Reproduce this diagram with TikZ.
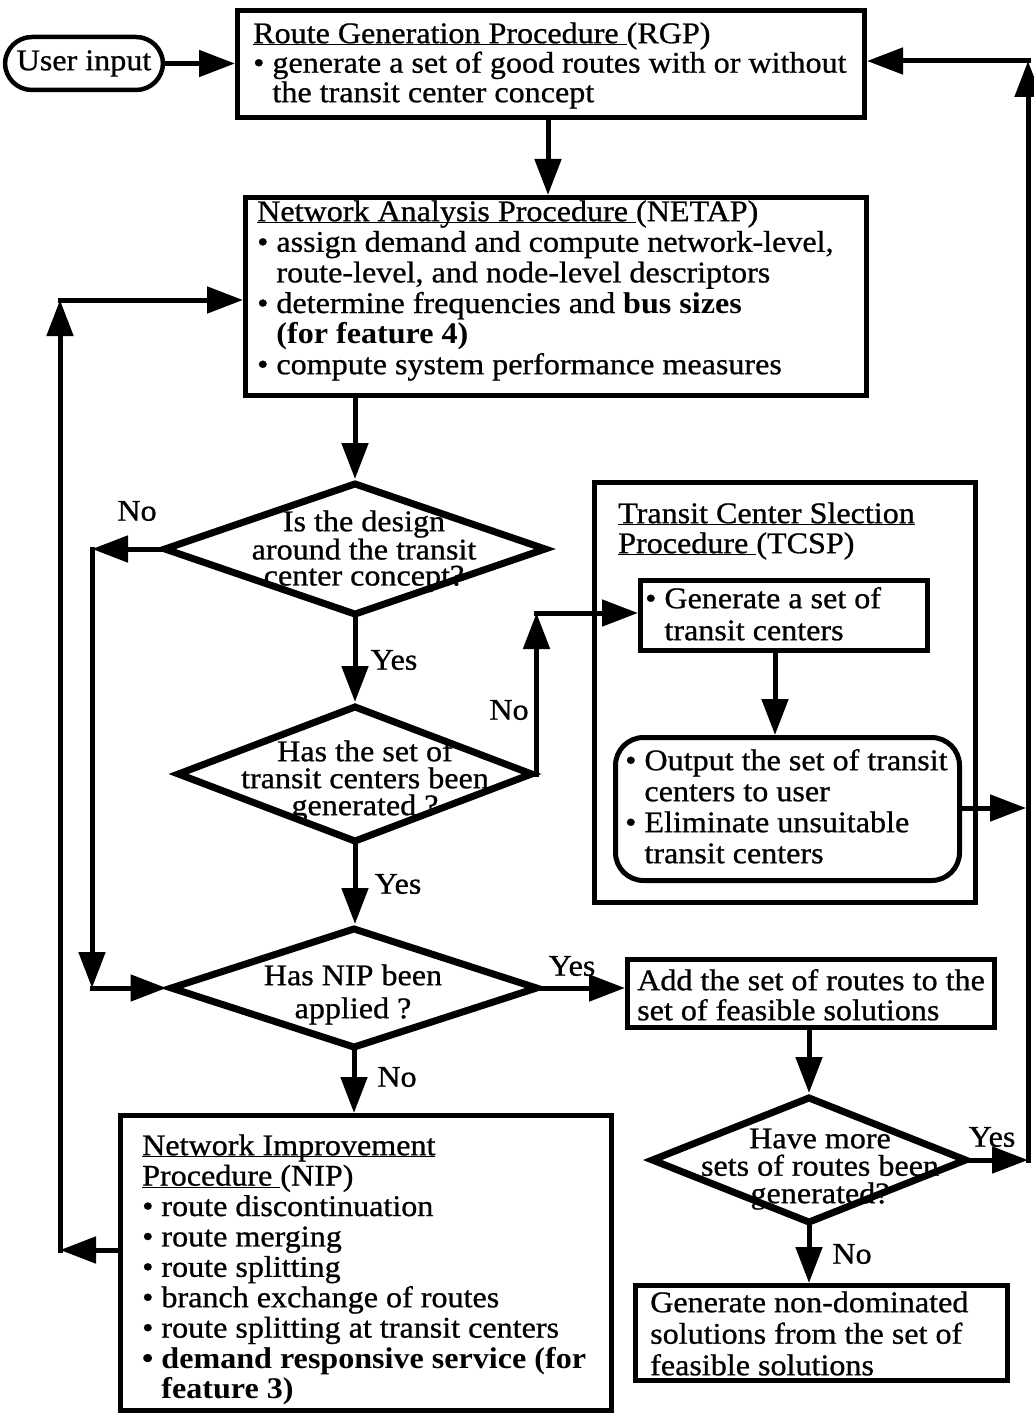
\documentclass[tikz,border=0pt]{standalone}
\usepackage{fontspec}
\setmainfont{Liberation Serif}[FakeStretch=1.07, UprightFeatures={FakeBold=0.8}]
\usetikzlibrary{arrows.meta,shapes.geometric}
\newcommand\ulx[1]{\underline{\smash{#1}}}
\newcommand\strt{\rule{0pt}{24pt}}
\newcommand\bul{\textbullet\ }
\newcommand\ind{\phantom{\textbullet\ }}
\begin{document}
\begin{tikzpicture}[x=1pt,y=-1pt,
  box/.style={draw, line width=5pt, inner sep=0pt},
  dia/.style={draw, diamond, line width=7pt, inner sep=0pt},
  conn/.style={line width=5pt, line cap=rect},
  arr/.style={conn, -{Triangle[length=36pt,width=26pt]}},
  txt/.style={anchor=north west, inner sep=0pt, align=left, font=\fontsize{30}{30.5}\selectfont},
  dtxt/.style={anchor=north, inner sep=0pt, align=center, font=\fontsize{30}{#1}\selectfont},
  lab/.style={inner sep=0pt, font=\fontsize{30}{30}\selectfont}]
\fill[white] (0,0) rectangle (1033,1415);
\useasboundingbox (0,0) rectangle (1033,1415);

% boxes
\node[box, rounded corners=27pt, line width=4.5pt, minimum width=158pt, minimum height=53pt,
      font=\fontsize{30}{30}\selectfont] (userin) at (84,63.5) {User input};
\node[box, minimum width=627pt, minimum height=107pt] (rgp) at (551,64) {};
\node[box, minimum width=621pt, minimum height=198pt] (netap) at (556,296.5) {};
\node[dia, minimum width=383pt, minimum height=133pt] (d1) at (355,549) {};
\node[dia, minimum width=356pt, minimum height=137pt] (d2) at (355,774) {};
\node[dia, minimum width=368pt, minimum height=121pt] (d3) at (354,988) {};
\node[box, minimum width=491pt, minimum height=295pt] (nip) at (366,1263) {};
\node[box, minimum width=381pt, minimum height=420pt] (tcsp) at (785,692.5) {};
\node[box, minimum width=287pt, minimum height=70pt] (gen) at (784,615.5) {};
\node[box, rounded corners=28pt, minimum width=344pt, minimum height=143pt] (out) at (787.5,809) {};
\node[box, minimum width=367pt, minimum height=68pt] (add) at (811,993.5) {};
\node[dia, minimum width=316pt, minimum height=127pt] (d4) at (809,1160) {};
\node[box, minimum width=372pt, minimum height=95pt] (gnd) at (821.5,1333) {};

% texts
\node[txt, font=\fontsize{30}{29.5}\selectfont] (rgpT) at (253,19)
  {\strt\ulx{Route Generation Procedure }(RGP)\\
   \bul generate a set of good routes with or without\\
   \ind the transit center concept};
\node[txt, font=\fontsize{30}{30.6}\selectfont] (netapT) at (257,197)
  {\strt\ulx{Network Analysis Procedure }(NETAP)\\
   \bul assign demand and compute network-level,\\
   \ind route-level, and node-level descriptors\\
   \bul determine frequencies and \textbf{bus sizes}\\
   \ind\textbf{(for feature 4)}\\
   \bul compute system performance measures};
\node[dtxt=26] (d1T) at (364,507)
  {\strt Is the design\\around the transit\\center concept?};
\node[dtxt=27] (d2T) at (365,737)
  {\strt Has the set of\\transit centers been\\generated ?};
\node[dtxt=33] (d3T) at (353,961)
  {\strt Has NIP been\\applied ?};
\node[dtxt=27.5] (d4T) at (820,1124)
  {\strt Have more\\sets of routes been\\generated?};
\node[txt, font=\fontsize{30}{30.4}\selectfont] (nipT) at (142,1131)
  {\strt\ulx{Network Improvement}\\
   \ulx{Procedure }(NIP)\\
   \bul route discontinuation\\
   \bul route merging\\
   \bul route splitting\\
   \bul branch exchange of routes\\
   \bul route splitting at transit centers\\
   \textbf{\bul demand responsive service (for}\\
   \ind\textbf{feature 3)}};
\node[txt, font=\fontsize{30}{30}\selectfont] (tcspT) at (618,499)
  {\strt\ulx{Transit Center Slection}\\
   \ulx{Procedure }(TCSP)};
\node[txt, font=\fontsize{30}{32}\selectfont] (genT) at (645,584)
  {\strt\bul Generate a set of\\
   \ind transit centers};
\node[txt, font=\fontsize{30}{31}\selectfont] (outT) at (625,746)
  {\strt\bul Output the set of transit\\
   \ind centers to user\\
   \bul Eliminate unsuitable\\
   \ind transit centers};
\node[txt, font=\fontsize{30}{30}\selectfont] (addT) at (637,966)
  {\strt Add the set of routes to the\\
   set of feasible solutions};
\node[txt, font=\fontsize{30}{31.5}\selectfont] (gndT) at (650,1288)
  {\strt Generate non-dominated\\
   solutions from the set of\\
   feasible solutions};

% labels
\node[lab] (l1) at (137,511) {No};
\node[lab] (l2) at (394,660) {Yes};
\node[lab] (l3) at (509,710) {No};
\node[lab] (l4) at (398,884) {Yes};
\node[lab] (l5) at (572,966) {Yes};
\node[lab] (l6) at (397,1077) {No};
\node[lab] (l7) at (992,1137) {Yes};
\node[lab] (l8) at (852,1254) {No};

% helper coordinates
\coordinate (xa) at (548,0);
\coordinate (la) at (92,549);
\coordinate (lb) at (92,988);
\coordinate (ry) at (0,613);
\coordinate (nr) at (d2.east |- ry);
\coordinate (nipy) at (0,1250);
\coordinate (lc) at (60,1250);
\coordinate (ld) at (60,300);
\coordinate (xg) at (775,0);
\coordinate (ra) at (1026,808);
\coordinate (rb) at (1028,1160);
\coordinate (rc) at (1028,61);

% connectors
\draw[arr] (userin.east) -- (userin.east -| rgp.west);
\draw[arr] (xa |- rgp.south) -- (xa |- netap.north);
\draw[arr] (netap.south -| d1.north) -- (d1.north);
\draw[arr] (d1.west) -- (la);
\draw[arr] (la) -- (lb);
\draw[arr] (lb) -- (d3.west);
\draw[arr] (d1.south) -- (d2.north);
\draw[arr] (d2.east) -- (nr);
\draw[arr] (nr) -- (nr -| gen.west);
\draw[arr] (d2.south) -- (d2.south |- d3.north);
\draw[arr] (d3.east) -- (d3.east -| add.west);
\draw[arr] (d3.south) -- (d3.south |- nip.north);
\draw[arr] (nip.west |- nipy) -- (lc);
\draw[arr] (lc) -- (ld);
\draw[arr] (ld) -- (ld -| netap.west);
\draw[arr] (xg |- gen.south) -- (xg |- out.north);
\draw[arr] (out.east |- ra) -- (ra);
\draw[arr] (add.south -| d4.north) -- (d4.north);
\draw[arr] (d4.east) -- (d4.east -| rb);
\draw[arr] (rb) -- (rc);
\draw[arr] (rc) -- (rc -| rgp.east);
\draw[arr] (d4.south) -- (d4.south |- gnd.north);
\end{tikzpicture}
\end{document}
